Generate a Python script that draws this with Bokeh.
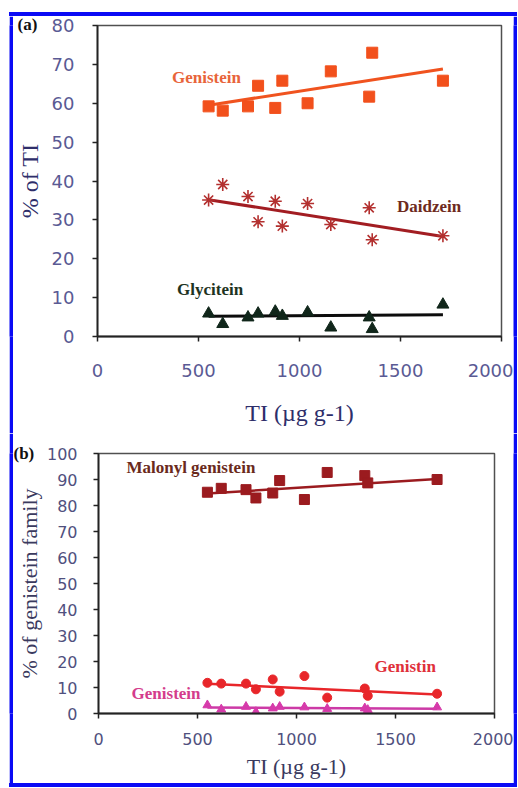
from bokeh.plotting import figure
from bokeh.layouts import column, row
from bokeh.models import Label, FixedTicker, Range1d, Title, Spacer
from bokeh.embed import file_html
from bokeh.resources import INLINE

# ---- data ----
ti = [550, 620, 745, 795, 880, 915, 1040, 1155, 1345, 1360, 1710]

# panel (a): % of TI
genistein_a = [59.2, 58.1, 59.2, 64.5, 58.8, 65.8, 60.0, 68.2, 61.7, 73.0, 65.8]
daidzein = [35.1, 39.1, 36.0, 29.5, 34.8, 28.4, 34.2, 28.8, 33.1, 24.9, 25.9]
glycitein = [5.9, 3.2, 4.9, 5.9, 6.4, 5.3, 6.2, 2.3, 4.9, 1.9, 8.2]

# panel (b): % of genistein family
malonyl_genistein = [85.1, 86.6, 86.1, 82.9, 84.8, 89.6, 82.3, 92.7, 91.5, 88.7, 90.0]
genistin = [11.8, 11.5, 11.5, 9.3, 13.1, 8.4, 14.4, 6.1, 9.6, 6.8, 7.6]
genistein_b = [3.2, 1.6, 2.6, 0.6, 2.0, 2.6, 2.4, 1.8, 2.0, 1.4, 2.4]

# trend lines (end points)
trend_x = [550, 1710]
genistein_a_trend = [59.5, 68.8]
daidzein_trend = [35.2, 25.7]
glycitein_trend = [5.2, 5.6]
malonyl_trend = [84.6, 90.2]
genistin_trend = [11.4, 7.3]
genistein_b_trend = [2.3, 1.8]

x_ticks = [0, 500, 1000, 1500, 2000]
y_ticks_a = [0, 10, 20, 30, 40, 50, 60, 70, 80]
y_ticks_b = [0, 10, 20, 30, 40, 50, 60, 70, 80, 90, 100]

x_title = "TI (\u00b5g g-1)"
BLUE = "#0a0af5"


def style(p, tick_font_size, tick_color, title_color, title_size, xstand, ystand, xlab_stand, ylab_stand):
    p.grid.visible = False
    p.outline_line_color = "#505050"
    p.outline_line_width = 1.5
    p.background_fill_color = "white"
    p.border_fill_color = "white"
    for ax in (p.xaxis[0], p.yaxis[0]):
        ax.axis_line_color = "#222222"
        ax.axis_line_width = 1.8
        ax.major_tick_line_color = "#222222"
        ax.major_tick_line_width = 1.5
        ax.major_tick_out = 5
        ax.major_tick_in = 0
        ax.minor_tick_out = 0
        ax.minor_tick_in = 0
        ax.major_label_text_font = "DejaVu Sans"
        ax.major_label_text_font_size = tick_font_size
        ax.major_label_text_color = tick_color
        ax.axis_label_text_font = "Liberation Serif"
        ax.axis_label_text_font_style = "normal"
        ax.axis_label_text_font_size = title_size
        ax.axis_label_text_color = title_color
    p.xaxis[0].major_label_standoff = xstand
    p.yaxis[0].major_label_standoff = ystand
    p.xaxis[0].axis_label_standoff = xlab_stand
    p.yaxis[0].axis_label_standoff = ylab_stand


def add_label(p, x, y, text, color, size="17px"):
    p.add_layout(Label(x=x, y=y, text=text, text_font="Liberation Serif",
                       text_font_style="bold", text_font_size=size,
                       text_color=color, text_align="left", text_baseline="middle"))


def vstrip(h):
    s = figure(width=4, height=h, output_backend="svg", toolbar_location=None,
               min_border=0, x_axis_type=None, y_axis_type=None)
    s.outline_line_color = None
    s.background_fill_color = BLUE
    s.border_fill_color = BLUE
    s.grid.visible = False
    return s


def hstrip(w):
    return Spacer(width=w, height=4, styles={"background-color": BLUE})


# ---- panel (a) ----
p1 = figure(width=500, height=417, x_range=Range1d(0, 2000), y_range=Range1d(0, 80),
            output_backend="svg", toolbar_location=None,
            min_border_left=82, min_border_right=12, min_border_top=9, min_border_bottom=97,
            x_axis_label=x_title, y_axis_label="% of TI")
p1.xaxis.ticker = FixedTicker(ticks=x_ticks)
p1.yaxis.ticker = FixedTicker(ticks=y_ticks_a)
style(p1, "18px", "#5a5a94", "#2e2e6a", "24px", 22, 18, 20, 6)

p1.line(trend_x, genistein_a_trend, line_color="#f0531f", line_width=3)
p1.scatter(ti, genistein_a, marker="square", size=11, fill_color="#f2501c", line_color="#f2501c")

p1.line(trend_x, daidzein_trend, line_color="#a21d22", line_width=3)
p1.scatter(ti, daidzein, marker="asterisk", size=13, line_color="#b3302f", line_width=1.6)

p1.line(trend_x, glycitein_trend, line_color="#0c0c0c", line_width=3)
p1.scatter(ti, glycitein, marker="triangle", size=12, fill_color="#10261a", line_color="#10261a")

add_label(p1, 369, 66.6, "Genistein", "#e8643a")
add_label(p1, 1483, 33.4, "Daidzein", "#6e2a20")
add_label(p1, 394, 12.1, "Glycitein", "#1e3322")
p1.add_layout(Title(text="(a)", align="left", offset=-80, standoff=-17,
                    text_font="Liberation Serif", text_font_style="bold",
                    text_font_size="17px", text_color="#111111"), "above")

# ---- panel (b) ----
p2 = figure(width=500, height=350, x_range=Range1d(0, 2000), y_range=Range1d(0, 100),
            output_backend="svg", toolbar_location=None,
            min_border_left=85, min_border_right=19, min_border_top=20, min_border_bottom=70,
            x_axis_label=x_title, y_axis_label="% of genistein family")
p2.xaxis.ticker = FixedTicker(ticks=x_ticks)
p2.yaxis.ticker = FixedTicker(ticks=y_ticks_b)
style(p2, "16px", "#50507e", "#3a3a5e", "22px", 14, 16, 6, 2)

p2.line(trend_x, malonyl_trend, line_color="#9b1b1f", line_width=2.5)
p2.scatter(ti, malonyl_genistein, marker="square", size=10, fill_color="#9b1b1f", line_color="#9b1b1f")

p2.line(trend_x, genistin_trend, line_color="#e8262a", line_width=2.5)
p2.scatter(ti, genistin, marker="circle", size=9, fill_color="#e8262a", line_color="#e8262a")

p2.line(trend_x, genistein_b_trend, line_color="#cc3aa6", line_width=2.5)
p2.scatter(ti, genistein_b, marker="triangle", size=9, fill_color="#d63aaa", line_color="#d63aaa")

add_label(p2, 141, 94.6, "Malonyl genistein", "#6a2a1c")
add_label(p2, 1394, 18.1, "Genistin", "#e0303a")
add_label(p2, 167, 7.7, "Genistein", "#d43c8c")
p2.add_layout(Title(text="(b)", align="left", offset=-85, standoff=-18,
                    text_font="Liberation Serif", text_font_style="bold",
                    text_font_size="17px", text_color="#111111"), "above")

inner = column(
    hstrip(508),
    row(vstrip(417), p1, vstrip(417)),
    row(vstrip(350), p2, vstrip(350)),
    hstrip(508),
)
layout = column(Spacer(width=517, height=12), row(Spacer(width=9, height=775), inner))

open("out.html", "w").write(file_html(layout, INLINE))
